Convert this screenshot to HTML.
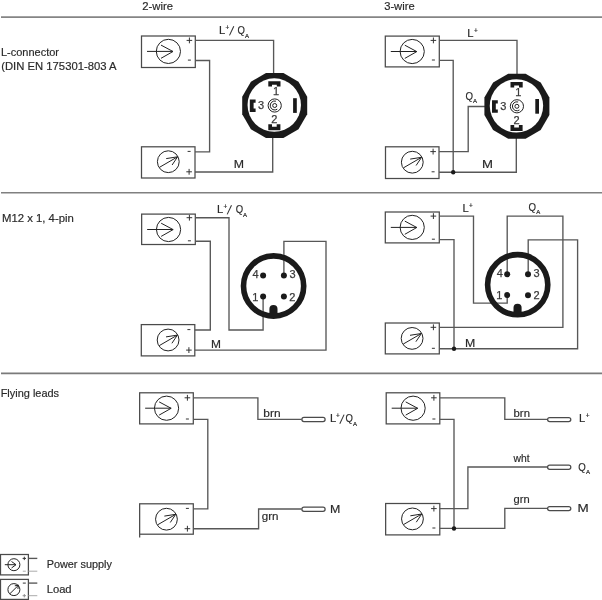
<!DOCTYPE html>
<html><head><meta charset="utf-8"><style>
html,body{margin:0;padding:0;background:#fff;width:602px;height:600px;overflow:hidden}
svg{display:block;will-change:transform}
.b{fill:none;stroke:#4a4a4a;stroke-width:1.25}
.t{fill:none;stroke:#222;stroke-width:1}
.sg{fill:none;stroke:#333;stroke-width:1}
.w{fill:none;stroke:#575757;stroke-width:1.35}
.tx{font-family:"Liberation Sans",sans-serif;fill:#2a2a2a;stroke:#2a2a2a;stroke-width:0.18}
.n{font-family:"Liberation Sans",sans-serif;fill:#3a3a3a;stroke:#3a3a3a;stroke-width:0.25;font-size:11px}
</style></head><body>
<svg width="602" height="600" viewBox="0 0 602 600">
<text x="142.24" y="10" class="tx" font-size="11" textLength="30.76" lengthAdjust="spacingAndGlyphs">2-wire</text>
<text x="384.17" y="10" class="tx" font-size="11" textLength="30.52" lengthAdjust="spacingAndGlyphs">3-wire</text>
<path d="M1 17.1H602" stroke="#858585" stroke-width="1.6"/>
<path d="M1 192.8H602" stroke="#808080" stroke-width="1.6"/>
<path d="M1 373.4H602" stroke="#7a7a7a" stroke-width="1.6"/>
<text x="1.00" y="56" class="tx" font-size="11" textLength="57.97" lengthAdjust="spacingAndGlyphs">L-connector</text>
<text x="1.20" y="69.6" class="tx" font-size="11" textLength="115.42" lengthAdjust="spacingAndGlyphs">(DIN EN 175301-803 A</text>
<text x="1.97" y="222" class="tx" font-size="11" textLength="71.86" lengthAdjust="spacingAndGlyphs">M12 x 1, 4-pin</text>
<text x="0.70" y="396.6" class="tx" font-size="11" textLength="58.39" lengthAdjust="spacingAndGlyphs">Flying leads</text>
<rect x="141.5" y="36" width="53.8" height="31.5" class="b"/><circle cx="168.40" cy="51.40" r="12.1" class="t"/><path d="M147.00 51.40H173.00M161.00 45.10L173.00 51.50L161.00 58.30" class="t"/><path d="M186.60 40.4H192.20M189.40 37.5V43.3" class="sg"/><path d="M187.90 60.1H190.90" class="sg"/>
<rect x="141.5" y="146.8" width="53.5" height="31.2" class="b"/><circle cx="168.30" cy="161.70" r="10.9" class="t"/><path d="M159.50 167.30L177.60 156.80M166.20 158.60L177.60 156.80L172.10 165.00" class="t"/><path d="M186.30 171.8H191.90M189.10 168.9V174.70000000000002" class="sg"/><path d="M187.60 151.4H190.60" class="sg"/>
<path d="M195.3 40.4H273.6V75" class="w"/>
<path d="M195.3 60.5H209.6V151.8H195" class="w"/>
<path d="M195 172H272.7V136" class="w"/>
<polygon points="307.20,96.79 298.49,81.71 283.41,73.00 265.99,73.00 250.91,81.71 242.20,96.79 242.20,114.21 250.91,129.29 265.99,138.00 283.41,138.00 298.49,129.29 307.20,114.21" fill="#1a1a1a"/><circle cx="274.25" cy="105.05" r="26.7" fill="#fff"/><path d="M268.3 81.2h12.2v5.4h-3.7v-1.9h-4.8v1.9h-3.7z" fill="#1a1a1a"/><path d="M268.3 130.3h12.1v-6h-3.7v2.5h-4.7v-2.5h-3.7z" fill="#1a1a1a"/><path d="M249.79999999999998 99.4h5.8v3.3h-2v5.9h2v3.3h-5.8z" fill="#1a1a1a"/><rect x="293.09999999999997" y="98.2" width="3.7" height="14.7" fill="#1a1a1a"/><circle cx="274.7" cy="105.5" r="6.6" class="t" stroke="#111" stroke-width="1.5"/><path d="M275.94 101.17A4.5 4.5 0 1 0 277.28 109.19" class="t" stroke="#111" stroke-width="1.3"/><circle cx="274.7" cy="105.5" r="2.0" class="t" stroke="#111" stroke-width="1.8"/><text x="276.09999999999997" y="94.7" class="n" text-anchor="middle">1</text><text x="274.4" y="123.1" class="n" text-anchor="middle">2</text><text x="261.0" y="108.7" class="n" text-anchor="middle">3</text>
<text x="219.08" y="33.6" class="tx" font-size="11.2">L</text><text x="225.41" y="29.76" class="tx" font-size="6.5">+</text><path d="M229.5 35.4L233.8 26.200000000000003" stroke="#333" stroke-width="1.05"/><text x="237.55" y="33.6" class="tx" font-size="11.5" textLength="7.40" lengthAdjust="spacingAndGlyphs">Q</text><text x="244.99" y="37.7" class="tx" font-size="5.5" textLength="4.02" lengthAdjust="spacingAndGlyphs">A</text>
<text x="233.74" y="167.75" class="tx" font-size="11" textLength="10.27" lengthAdjust="spacingAndGlyphs">M</text>
<rect x="385.3" y="36.1" width="54" height="30.8" class="b"/><circle cx="412.20" cy="51.50" r="12.1" class="t"/><path d="M390.80 51.50H416.80M404.80 45.20L416.80 51.60L404.80 58.40" class="t"/><path d="M430.60 40.4H436.20M433.40 37.5V43.3" class="sg"/><path d="M431.90 60.0H434.90" class="sg"/>
<rect x="385.5" y="146.8" width="53.5" height="31.7" class="b"/><circle cx="412.30" cy="162.20" r="10.9" class="t"/><path d="M403.50 167.80L421.60 157.30M410.20 159.10L421.60 157.30L416.10 165.50" class="t"/><path d="M430.30 151.6H435.90M433.10 148.7V154.5" class="sg"/><path d="M431.60 171.79999999999998H434.60" class="sg"/>
<path d="M439.3 40.4H517V76" class="w"/>
<path d="M439.3 60.4H453.2V172.2" class="w"/>
<path d="M439 151.6H468.2V106.5H486" class="w"/>
<path d="M439 172.2H516.3V137" class="w"/>
<polygon points="549.40,97.59 540.69,82.51 525.61,73.80 508.19,73.80 493.11,82.51 484.40,97.59 484.40,115.01 493.11,130.09 508.19,138.80 525.61,138.80 540.69,130.09 549.40,115.01" fill="#1a1a1a"/><circle cx="516.4499999999999" cy="105.85" r="26.7" fill="#fff"/><path d="M510.5 82.0h12.2v5.4h-3.7v-1.9h-4.8v1.9h-3.7z" fill="#1a1a1a"/><path d="M510.5 131.1h12.1v-6h-3.7v2.5h-4.7v-2.5h-3.7z" fill="#1a1a1a"/><path d="M492.0 100.2h5.8v3.3h-2v5.9h2v3.3h-5.8z" fill="#1a1a1a"/><rect x="535.3" y="99.0" width="3.7" height="14.7" fill="#1a1a1a"/><circle cx="516.9" cy="106.3" r="6.6" class="t" stroke="#111" stroke-width="1.5"/><path d="M518.14 101.97A4.5 4.5 0 1 0 519.48 109.99" class="t" stroke="#111" stroke-width="1.3"/><circle cx="516.9" cy="106.3" r="2.0" class="t" stroke="#111" stroke-width="1.8"/><text x="518.3" y="95.5" class="n" text-anchor="middle">1</text><text x="516.6" y="123.9" class="n" text-anchor="middle">2</text><text x="503.2" y="109.5" class="n" text-anchor="middle">3</text>
<circle cx="453.2" cy="172.2" r="2.2" fill="#1a1a1a"/>
<text x="467.28" y="36.75" class="tx" font-size="11.2">L</text><text x="474.01" y="32.66" class="tx" font-size="6.5">+</text>
<text x="465.55" y="99.7" class="tx" font-size="11.5" textLength="7.52" lengthAdjust="spacingAndGlyphs">Q</text><text x="473.09" y="102.75" class="tx" font-size="5.5" textLength="4.02" lengthAdjust="spacingAndGlyphs">A</text>
<text x="482.12" y="168" class="tx" font-size="11" textLength="10.96" lengthAdjust="spacingAndGlyphs">M</text>
<rect x="141.65" y="214.1" width="53.65" height="30.4" class="b"/><circle cx="168.55" cy="229.50" r="12.1" class="t"/><path d="M147.15 229.50H173.15M161.15 223.20L173.15 229.60L161.15 236.40" class="t"/><path d="M186.60 217.7H192.20M189.40 214.79999999999998V220.6" class="sg"/><path d="M187.90 240.79999999999998H190.90" class="sg"/>
<rect x="141.3" y="324.6" width="53.5" height="31.3" class="b"/><circle cx="168.10" cy="340.00" r="10.9" class="t"/><path d="M159.30 345.60L177.40 335.10M166.00 336.90L177.40 335.10L171.90 343.30" class="t"/><path d="M186.10 350.1H191.70M188.90 347.20000000000005V353.0" class="sg"/><path d="M187.40 329.6H190.40" class="sg"/>
<path d="M195.3 217.7H229V330H263.1V296.5" class="w"/>
<path d="M195.3 241.2H210.3V330H194.8" class="w"/>
<path d="M194.8 350.1H326V241.4H283.9V275" class="w"/>
<circle cx="273.6" cy="286" r="30.1" fill="none" stroke="#1a1a1a" stroke-width="5.6"/><path d="M269.40000000000003 317V309.1a4.05 4.05 0 0 1 8.1 0V317z" fill="#1a1a1a"/><circle cx="263.1" cy="275.6" r="3" fill="#1a1a1a"/><circle cx="283.90000000000003" cy="275.6" r="3" fill="#1a1a1a"/><circle cx="263.1" cy="296.4" r="3" fill="#1a1a1a"/><circle cx="283.90000000000003" cy="296.5" r="3" fill="#1a1a1a"/><text x="252.56" y="277.8" class="n">4</text><text x="289.48" y="277.8" class="n">3</text><text x="252.26" y="300.6" class="n">1</text><text x="289.35" y="300.6" class="n">2</text>
<text x="217.08" y="212.6" class="tx" font-size="11.2">L</text><text x="223.41" y="208.76" class="tx" font-size="6.5">+</text><path d="M227.2 214.4L231.5 205.2" stroke="#333" stroke-width="1.05"/><text x="235.85" y="212.6" class="tx" font-size="11.5" textLength="7.40" lengthAdjust="spacingAndGlyphs">Q</text><text x="242.99" y="216.7" class="tx" font-size="5.5" textLength="4.02" lengthAdjust="spacingAndGlyphs">A</text>
<text x="211.02" y="348" class="tx" font-size="11" textLength="9.96" lengthAdjust="spacingAndGlyphs">M</text>
<rect x="385.3" y="212" width="54" height="30.9" class="b"/><circle cx="412.20" cy="227.40" r="12.1" class="t"/><path d="M390.80 227.40H416.80M404.80 221.10L416.80 227.50L404.80 234.30" class="t"/><path d="M430.60 216.1H436.20M433.40 213.2V219.0" class="sg"/><path d="M431.90 239.2H434.90" class="sg"/>
<rect x="385.3" y="323" width="54" height="30.9" class="b"/><circle cx="412.10" cy="338.40" r="10.9" class="t"/><path d="M403.30 344.00L421.40 333.50M410.00 335.30L421.40 333.50L415.90 341.70" class="t"/><path d="M430.60 327.3H436.20M433.40 324.40000000000003V330.2" class="sg"/><path d="M431.90 348.3H434.90" class="sg"/>
<path d="M439.3 216.1H473.5V303.1H507.2V295" class="w"/>
<path d="M439.3 239.6H454V348.7" class="w"/>
<path d="M439.3 327.3H562.9V216.1H507.2V273.5" class="w"/>
<path d="M439.3 348.7H577.6V239.9H528.2V273.5" class="w"/>
<circle cx="517.7" cy="284.7" r="30.1" fill="none" stroke="#1a1a1a" stroke-width="5.6"/><path d="M513.5 315.7V307.8a4.05 4.05 0 0 1 8.1 0V315.7z" fill="#1a1a1a"/><circle cx="507.20000000000005" cy="274.3" r="3" fill="#1a1a1a"/><circle cx="528.0" cy="274.3" r="3" fill="#1a1a1a"/><circle cx="507.20000000000005" cy="295.09999999999997" r="3" fill="#1a1a1a"/><circle cx="528.0" cy="295.2" r="3" fill="#1a1a1a"/><text x="496.66" y="276.5" class="n">4</text><text x="533.58" y="276.5" class="n">3</text><text x="496.36" y="299.3" class="n">1</text><text x="533.45" y="299.3" class="n">2</text>
<circle cx="454" cy="348.7" r="2.2" fill="#1a1a1a"/>
<text x="462.58" y="211.7" class="tx" font-size="11.2">L</text><text x="468.91" y="207.86" class="tx" font-size="6.5">+</text>
<text x="528.55" y="210.8" class="tx" font-size="11.5" textLength="7.52" lengthAdjust="spacingAndGlyphs">Q</text><text x="536.19" y="213.8" class="tx" font-size="5.5" textLength="4.02" lengthAdjust="spacingAndGlyphs">A</text>
<text x="464.99" y="346.75" class="tx" font-size="11" textLength="10.27" lengthAdjust="spacingAndGlyphs">M</text>
<rect x="139.65" y="392.8" width="53.65" height="31.1" class="b"/><circle cx="166.55" cy="408.20" r="12.1" class="t"/><path d="M145.15 408.20H171.15M159.15 401.90L171.15 408.30L159.15 415.10" class="t"/><path d="M184.60 397.8H190.20M187.40 394.90000000000003V400.7" class="sg"/><path d="M185.90 419.0H188.90" class="sg"/>
<rect x="139.65" y="503.8" width="53.65" height="30.4" class="b"/><circle cx="166.45" cy="519.20" r="10.9" class="t"/><path d="M157.65 524.80L175.75 514.30M164.35 516.10L175.75 514.30L170.25 522.50" class="t"/><path d="M184.60 528.7H190.20M187.40 525.8000000000001V531.6" class="sg"/><path d="M185.90 508.40000000000003H188.90" class="sg"/>
<path d="M139.65 534.2V537.5" class="b"/>
<path d="M193.3 397.8H257.9V419.3H301.6" class="w"/>
<path d="M193.3 419.4H207.8V508.8H193.3" class="w"/>
<path d="M193.3 528.7H258.6V509H301.6" class="w"/>
<rect x="301.90000000000003" y="417.40000000000003" width="23.2" height="4.2" rx="2.1" class="b"/>
<rect x="301.90000000000003" y="507.1" width="23.2" height="4.2" rx="2.1" class="b"/>
<text x="263.34" y="417.3" class="tx" font-size="11" textLength="17.23" lengthAdjust="spacingAndGlyphs">brn</text>
<text x="261.76" y="519.6" class="tx" font-size="11" textLength="16.73" lengthAdjust="spacingAndGlyphs">grn</text>
<text x="330.08" y="422" class="tx" font-size="11.2">L</text><text x="336.11" y="418.16" class="tx" font-size="6.5">+</text><path d="M339.8 423.8L344.1 414.6" stroke="#333" stroke-width="1.05"/><text x="345.55" y="422" class="tx" font-size="11.5" textLength="7.40" lengthAdjust="spacingAndGlyphs">Q</text><text x="352.99" y="425.7" class="tx" font-size="5.5" textLength="4.02" lengthAdjust="spacingAndGlyphs">A</text>
<text x="329.98" y="513.4" class="tx" font-size="11" textLength="10.33" lengthAdjust="spacingAndGlyphs">M</text>
<rect x="386.2" y="392.8" width="53.6" height="31.1" class="b"/><circle cx="413.10" cy="408.20" r="12.1" class="t"/><path d="M391.70 408.20H417.70M405.70 401.90L417.70 408.30L405.70 415.10" class="t"/><path d="M431.10 397.8H436.70M433.90 394.90000000000003V400.7" class="sg"/><path d="M432.40 419.0H435.40" class="sg"/>
<rect x="385.65" y="503.5" width="54.15" height="31.4" class="b"/><circle cx="412.45" cy="518.90" r="10.9" class="t"/><path d="M403.65 524.50L421.75 514.00M410.35 515.80L421.75 514.00L416.25 522.20" class="t"/><path d="M431.10 508.6H436.70M433.90 505.70000000000005V511.5" class="sg"/><path d="M432.40 528.0H435.40" class="sg"/>
<path d="M439.8 397.8H504.8V419.4H547.3" class="w"/>
<path d="M439.8 419.4H454V528.4" class="w"/>
<path d="M439.8 508.6H467.9V467H547.3" class="w"/>
<path d="M439.8 528.4H504.8V508.4H547.3" class="w"/>
<circle cx="454" cy="528.5" r="2.2" fill="#1a1a1a"/>
<rect x="547.5999999999999" y="417.5" width="23.2" height="4.2" rx="2.1" class="b"/>
<rect x="547.5999999999999" y="465.1" width="23.2" height="4.2" rx="2.1" class="b"/>
<rect x="547.5999999999999" y="506.5" width="23.2" height="4.2" rx="2.1" class="b"/>
<text x="513.58" y="417" class="tx" font-size="11" textLength="16.35" lengthAdjust="spacingAndGlyphs">brn</text>
<text x="513.52" y="462" class="tx" font-size="11" textLength="16.05" lengthAdjust="spacingAndGlyphs">wht</text>
<text x="513.53" y="502.9" class="tx" font-size="11" textLength="16.08" lengthAdjust="spacingAndGlyphs">grn</text>
<text x="579.08" y="422" class="tx" font-size="11.2">L</text><text x="585.71" y="418.36" class="tx" font-size="6.5">+</text>
<text x="578.35" y="470.8" class="tx" font-size="11.5" textLength="7.52" lengthAdjust="spacingAndGlyphs">Q</text><text x="585.99" y="474" class="tx" font-size="5.5" textLength="4.02" lengthAdjust="spacingAndGlyphs">A</text>
<text x="577.50" y="512.3" class="tx" font-size="11" textLength="11.21" lengthAdjust="spacingAndGlyphs">M</text>
<rect x="0.5" y="554.5" width="27.9" height="20.4" class="b"/>
<circle cx="13.9" cy="564.7" r="6" class="t"/>
<path d="M4.8 564.7H16M11.5 561.5L16 564.7L11.5 568" class="t"/>
<path d="M22.6 558.4H26M24.3 556.7V560.1" class="sg"/><path d="M22.8 571.2H25.8" stroke="#aaa" stroke-width="1"/>
<path d="M28.4 558.4H37.3" class="w"/>
<path d="M28.4 571.2H37.3" stroke="#aaa" stroke-width="1"/>
<rect x="0.5" y="579.4" width="27.9" height="20" class="b"/>
<circle cx="13.9" cy="589.6" r="6" class="t"/>
<path d="M9.8 593.8L18.4 585.3M14.8 585.8L18.4 585.3L17.9 588.9" class="t"/>
<path d="M22.8 583.1H25.8" class="sg"/><path d="M22.6 595.7H26M24.3 594V597.4" stroke="#888" stroke-width="0.9"/>
<path d="M28.4 583.1H37.3" class="w"/>
<path d="M28.4 595.7H37.3" stroke="#aaa" stroke-width="1"/>
<text x="46.71" y="568.2" class="tx" font-size="11" textLength="65.21" lengthAdjust="spacingAndGlyphs">Power supply</text>
<text x="46.68" y="593" class="tx" font-size="11" textLength="24.94" lengthAdjust="spacingAndGlyphs">Load</text>
</svg>
</body></html>
